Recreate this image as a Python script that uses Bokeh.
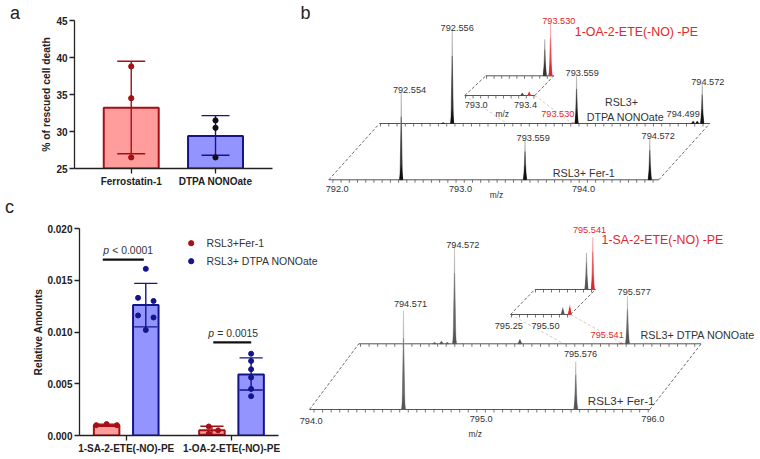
from bokeh.plotting import figure
from bokeh.embed import file_html
from bokeh.resources import INLINE
from bokeh.core.properties import value
from bokeh.models import Range1d, FixedTicker, NumeralTickFormatter
import numpy as np

FONT = "Liberation Sans"

# ---- panel a
A_CATS = ["Ferrostatin-1", "DTPA NONOate"]
A_MEANS = [33.2, 29.4]
A_LOW = [27.0, 26.8]
A_HIGH = [39.5, 32.15]
A_POINTS = [[38.8, 34.5, 26.5], [31.5, 30.5, 26.5]]
A_TICKS = [25, 30, 35, 40, 45]

# ---- panel c
C_CATS = ["1-SA-2-ETE(-NO)-PE", "1-OA-2-ETE(-NO)-PE"]
C_FER_MEAN = [0.0010, 0.0005]
C_FER_LOW = [0.0009, 0.0001]
C_FER_HIGH = [0.0011, 0.0009]
C_FER_POINTS = [[0.0010, 0.0011, 0.0010], [0.00087, 0.0005, 0.00016]]
C_NO_MEAN = [0.0126, 0.0059]
C_NO_LOW = [0.0105, 0.0044]
C_NO_HIGH = [0.0147, 0.0075]
C_NO_POINTS = [[0.0161, 0.0133, 0.0130, 0.0116, 0.0114, 0.0102],
               [0.0079, 0.0072, 0.0064, 0.0056, 0.0045, 0.0038]]
C_TICKS = [0.0, 0.005, 0.010, 0.015, 0.020]
C_PVALUES = ["< 0.0001", "= 0.0015"]
C_P_LEVEL = [0.0170, 0.0090]
C_SERIES = ["RSL3+Fer-1", "RSL3+ DTPA NONOate"]

# ---- panel b, spectra: m/z and relative height
S1_BACK_MZ = [792.483, 792.556, 793.530, 793.559, 794.499, 794.532, 794.572]
S1_BACK_H = [1.0, 100, 1.0, 51.3, 3.0, 3.0, 42.7]
S1_FRONT_MZ = [792.554, 793.559, 794.572]
S1_FRONT_H = [93.2, 42.0, 44.0]
S1_IN_BACK_MZ = [793.47, 793.53]
S1_IN_BACK_H = [70, 100]
S1_IN_FRONT_MZ = [793.47, 793.53]
S1_IN_FRONT_H = [5.5, 8]

S2_BACK_MZ = [794.456, 794.496, 794.530, 794.572, 794.952, 795.541, 795.577]
S2_BACK_H = [1.5, 3.0, 1.5, 98.3, 5.0, 1.0, 47.6]
S2_FRONT_MZ = [794.571, 795.576]
S2_FRONT_H = [99, 48]
S2_IN_BACK_MZ = [795.48, 795.541]
S2_IN_BACK_H = [70, 100]
S2_IN_FRONT_MZ = [795.48, 795.541]
S2_IN_FRONT_H = [14, 18.5]

RED = "#e3262b"
DARKRED = "#a50f15"
NAVY = "#14148c"
TXT = "#333333"

# ------------------------------------------------------------------ canvas
ms = figure(width=760, height=459, output_backend="svg", toolbar_location=None,
            x_range=Range1d(0, 760), y_range=Range1d(459, 0),
            x_axis_type=None, y_axis_type=None, min_border=0,
            outline_line_color=None, background_fill_color=None, border_fill_color=None)


def label(x, y, s, size=9.2, color=TXT, align="center"):
    ms.text([x], [y], text=[s], text_font=value(FONT), text_font_size=f"{size}px",
            text_color=color, text_align=align, text_baseline="middle")


def baseline(px0, px1, y, step, phase, tick=3.0):
    ms.segment([px0], [y], [px1], [y], line_color="#555555", line_width=1)
    tx = np.arange(phase, px1, step)
    ms.segment(tx, y, tx, y + tick, line_color="#555555", line_width=0.8)


def sides(a, b, color="#444444"):
    ms.segment([a[0]], [a[1]], [b[0]], [b[1]], line_color=color, line_width=0.8, line_dash="3 2")


def peaks(mzs, hs, mz0, px0, scale, y, hscale, dark, mid, light, red=(), w=1.0):
    for mz, h in zip(mzs, hs):
        x = px0 + (mz - mz0) * scale
        ht = h * hscale
        isred = mz in red
        c1, c2, c3 = ("#f08f92", "#e8474b", "#d92a30") if isred else (light, mid, dark)
        ms.patch([x - 1.1 * w, x, x + 1.1 * w], [y, y - ht, y], color=c1, line_width=0.4)
        ms.patch([x - 1.3 * w, x, x + 1.3 * w], [y, y - ht * 0.72, y], color=c2, line_width=0.3)
        ms.patch([x - 1.9 * w, x, x + 1.9 * w], [y, y - min(ht, 18) * 0.8, y], color=c3, line_width=0.2)


# spectrum 1
sides((328.3, 179.3), (379, 123))
sides((658.3, 179.3), (709.3, 123))
sides((464.3, 95), (506.7, 123), "#c4c4c4")
sides((534.3, 95), (571.7, 123), "#d8b8b8")
baseline(379, 709.3, 123, 8.27, 380)
baseline(328.3, 658.3, 179.3, 8.21, 332.4)
sides((464.3, 95), (485.3, 75.3))
sides((534.3, 95), (553.3, 75.3))
baseline(485.3, 553.3, 75.3, 7.6, 486)
baseline(464.3, 534.3, 95, 7.6, 465)
peaks(S1_BACK_MZ, S1_BACK_H, 792.556, 451.7, 124.0, 123, 0.937, "#111111", "#333333", "#9a9a9a", red=(793.530,))
peaks(S1_FRONT_MZ, S1_FRONT_H, 792.554, 400.7, 123.2, 179.3, 0.937, "#111111", "#333333", "#9a9a9a")
peaks(S1_IN_BACK_MZ, S1_IN_BACK_H, 793.53, 550, 95, 75.3, 0.52, "#333333", "#555555", "#8c8c8c", red=(793.53,))
peaks(S1_IN_FRONT_MZ, S1_IN_FRONT_H, 793.53, 528.7, 116, 95, 0.52, "#444444", "#555555", "#8c8c8c", red=(793.53,))

label(336.7, 188, "792.0"); label(460, 188, "793.0"); label(583, 188, "794.0")
label(496, 194.3, "m/z", 8.4)
label(409, 89.3, "792.554"); label(456.7, 27, "792.556")
label(581.7, 72.7, "793.559"); label(707.3, 81, "794.572")
label(532.7, 137, "793.559"); label(657.7, 135.7, "794.572")
label(682.7, 113.3, "794.499")
label(557.3, 113.3, "793.530", color=RED)
label(558.3, 20, "793.530", color=RED)
label(475.7, 104.3, "793.0", 9.2); label(525, 104.3, "793.4", 9.2)
label(501.7, 113, "m/z", 8.4)
label(621, 101.7, "RSL3+", 10.7); label(625, 116, "DTPA NONOate", 10.7)
label(583.3, 172, "RSL3+ Fer-1", 10.8)
label(574.3, 31.7, "1-OA-2-ETE(-NO) -PE", 12.4, RED, "left")

# spectrum 2
sides((309, 409), (358.3, 343.3))
sides((649.3, 409), (700.7, 343.3))
sides((510, 314), (563.3, 343.3), "#c4c4c4")
sides((570, 314), (622.3, 343.3), "#d8b8b8")
baseline(358.3, 700.7, 343.3, 8.57, 360)
baseline(309, 649.3, 409, 8.57, 313.5)
sides((510, 314), (534.3, 289))
sides((570, 314), (595, 289))
baseline(534.3, 595, 289, 8.0, 535)
baseline(510, 570, 314, 8.0, 511)
peaks(S2_BACK_MZ, S2_BACK_H, 794.572, 454, 172.1, 343.3, 1.0, "#555555", "#666666", "#a8a8a8", red=(795.541,), w=1.15)
peaks(S2_FRONT_MZ, S2_FRONT_H, 794.571, 403, 171.4, 409, 1.0, "#555555", "#666666", "#a8a8a8", w=1.15)
peaks(S2_IN_BACK_MZ, S2_IN_BACK_H, 795.541, 592.3, 104, 289, 0.523, "#555555", "#666666", "#8c8c8c", red=(795.541,))
peaks(S2_IN_FRONT_MZ, S2_IN_FRONT_H, 795.541, 569.3, 115, 314, 0.523, "#555555", "#666666", "#8c8c8c", red=(795.541,))

label(310.7, 420, "794.0"); label(480.7, 418.7, "795.0"); label(652.3, 418.7, "796.0")
label(474.7, 433.3, "m/z", 8.4)
label(410, 303.3, "794.571"); label(462.3, 244, "794.572")
label(633.7, 291.7, "795.577"); label(580, 353.7, "795.576")
label(606.7, 334.3, "795.541", color=RED)
label(589, 229.3, "795.541", color=RED)
label(508.3, 325, "795.25"); label(545, 325.7, "795.50")
label(601, 239.7, "1-SA-2-ETE(-NO) -PE", 12.4, RED, "left")
label(640, 334.3, "RSL3+ DTPA NONOate", 10.75, TXT, "left")
label(587.3, 400.3, "RSL3+ Fer-1", 11.6, TXT, "left")

# panel letters
label(14.5, 12.5, "a", 18, "#222222")
label(305, 12.5, "b", 18, "#222222")
label(9, 206.5, "c", 18, "#222222")

# legend of panel c (wider than that panel's axes)
for yy, name, col in zip([242.7, 260.7], C_SERIES, [DARKRED, NAVY]):
    ms.scatter([190.7], [yy], size=5.2, color=col)
    label(206, yy, name, 10.5, TXT, "left")


def style_axes(p, ylabel, standoff):
    for ax in (p.xaxis[0], p.yaxis[0]):
        ax.axis_line_color = "#222222"
        ax.axis_line_width = 1.3
        ax.major_tick_line_color = "#222222"
        ax.major_tick_line_width = 1.3
        ax.major_tick_out = 5
        ax.major_tick_in = 0
        ax.minor_tick_line_color = None
        ax.major_label_text_font = FONT
        ax.major_label_text_font_style = "bold"
        ax.major_label_text_font_size = "10px"
        ax.major_label_text_color = "#222222"
        ax.major_label_standoff = 2
    p.yaxis[0].axis_label = ylabel
    p.yaxis[0].axis_label_text_font = FONT
    p.yaxis[0].axis_label_text_font_style = "bold"
    p.yaxis[0].axis_label_text_font_size = "10.3px"
    p.yaxis[0].axis_label_text_color = "#222222"
    p.yaxis[0].axis_label_standoff = standoff
    p.grid.visible = False
    p.outline_line_color = None
    p.background_fill_color = None
    p.border_fill_color = None


# ------------------------------------------------------------------ panel a
a = figure(width=290, height=195, output_backend="svg", toolbar_location=None,
           x_range=Range1d(0.327, 2.676), y_range=Range1d(25, 45),
           min_border_left=74, min_border_right=18, min_border_top=20, min_border_bottom=27)
style_axes(a, "% of rescued cell death", 1)
a.xaxis[0].ticker = FixedTicker(ticks=[1, 2])
a.xaxis[0].major_label_overrides = {1: A_CATS[0], 2: A_CATS[1]}
a.yaxis[0].ticker = FixedTicker(ticks=A_TICKS)
ax_pos = [1, 2]
a.vbar(x=ax_pos, top=A_MEANS, bottom=25, width=0.652,
       fill_color=["#ff9c9c", "#9494ff"], line_color=[DARKRED, NAVY], line_width=2)
a.segment(ax_pos, A_LOW, ax_pos, A_HIGH, line_color=[DARKRED, NAVY], line_width=1.4)
for pos, lo, hi, col in zip(ax_pos, A_LOW, A_HIGH, [DARKRED, NAVY]):
    a.segment([pos - 0.166, pos - 0.166], [lo, hi], [pos + 0.166, pos + 0.166], [lo, hi],
              line_color=col, line_width=1.4)
for pos, pts, col in zip(ax_pos, A_POINTS, [DARKRED, "#111111"]):
    a.scatter([pos] * len(pts), pts, size=5.2, color=col)

# ------------------------------------------------------------------ panel c
c = figure(width=330, height=264, output_backend="svg", toolbar_location=None,
           x_range=Range1d(0.5565, 2.446), y_range=Range1d(0, 0.020),
           min_border_left=79, min_border_right=52, min_border_top=33, min_border_bottom=24)
style_axes(c, "Relative Amounts", 0)
c.xaxis[0].ticker = FixedTicker(ticks=[1, 2])
c.xaxis[0].major_label_overrides = {1: C_CATS[0], 2: C_CATS[1]}
c.yaxis[0].ticker = FixedTicker(ticks=C_TICKS)
c.yaxis[0].formatter = NumeralTickFormatter(format="0.000")

DODGE = 0.186
groups = [1, 2]
for off, means, lows, highs, pts, fill, col in [
    (-DODGE, C_FER_MEAN, C_FER_LOW, C_FER_HIGH, C_FER_POINTS, "#ff9c9c", DARKRED),
    (DODGE, C_NO_MEAN, C_NO_LOW, C_NO_HIGH, C_NO_POINTS, "#9494ff", NAVY),
]:
    xs = [g + off for g in groups]
    c.vbar(x=xs, top=means, bottom=0, width=0.242, fill_color=fill, line_color=col, line_width=2)
    c.segment(xs, lows, xs, highs, line_color=col, line_width=1.4)
    c.segment([x - 0.11 for x in xs], lows, [x + 0.11 for x in xs], lows, line_color=col, line_width=1.4)
    c.segment([x - 0.11 for x in xs], highs, [x + 0.11 for x in xs], highs, line_color=col, line_width=1.4)

SPREAD = 0.098
fer_dx = [[-SPREAD, 0, SPREAD], [-0.03, SPREAD * 0.6, -0.03]]
no_dx = [[0, -0.0735, 0.0735, -0.0735, 0.0735, 0], [0, 0, 0, 0, 0, 0]]
for g, pts, dx in zip(groups, C_FER_POINTS, fer_dx):
    c.scatter([g - DODGE + d for d in dx], pts, size=5, color=DARKRED)
for g, pts, dx in zip(groups, C_NO_POINTS, no_dx):
    c.scatter([g + DODGE + d for d in dx], pts, size=5, color=NAVY)

# p-value bars
c.segment([0.7775, 1.8266], C_P_LEVEL, [1.167, 2.187], C_P_LEVEL, line_color="#111111", line_width=2.2)
for x0, lvl, s in zip([0.7825, 1.78], C_P_LEVEL, C_PVALUES):
    c.text([x0], [lvl + 0.00085], text=["p"], text_font=value(FONT), text_font_style="italic",
           text_font_size="10.4px", text_color=TXT, text_baseline="middle")
    c.text([x0 + 0.085], [lvl + 0.00085], text=[s], text_font=value(FONT),
           text_font_size="10.4px", text_color=TXT, text_baseline="middle")

ms.styles = {"position": "absolute", "left": "0px", "top": "0px", "width": "760px", "height": "459px"}
a.styles = {"position": "absolute", "left": "0px", "top": "0px", "width": "290px", "height": "195px"}
c.styles = {"position": "absolute", "left": "0px", "top": "195px", "width": "330px", "height": "264px"}

open("out.html", "w").write(file_html([ms, a, c], INLINE))
